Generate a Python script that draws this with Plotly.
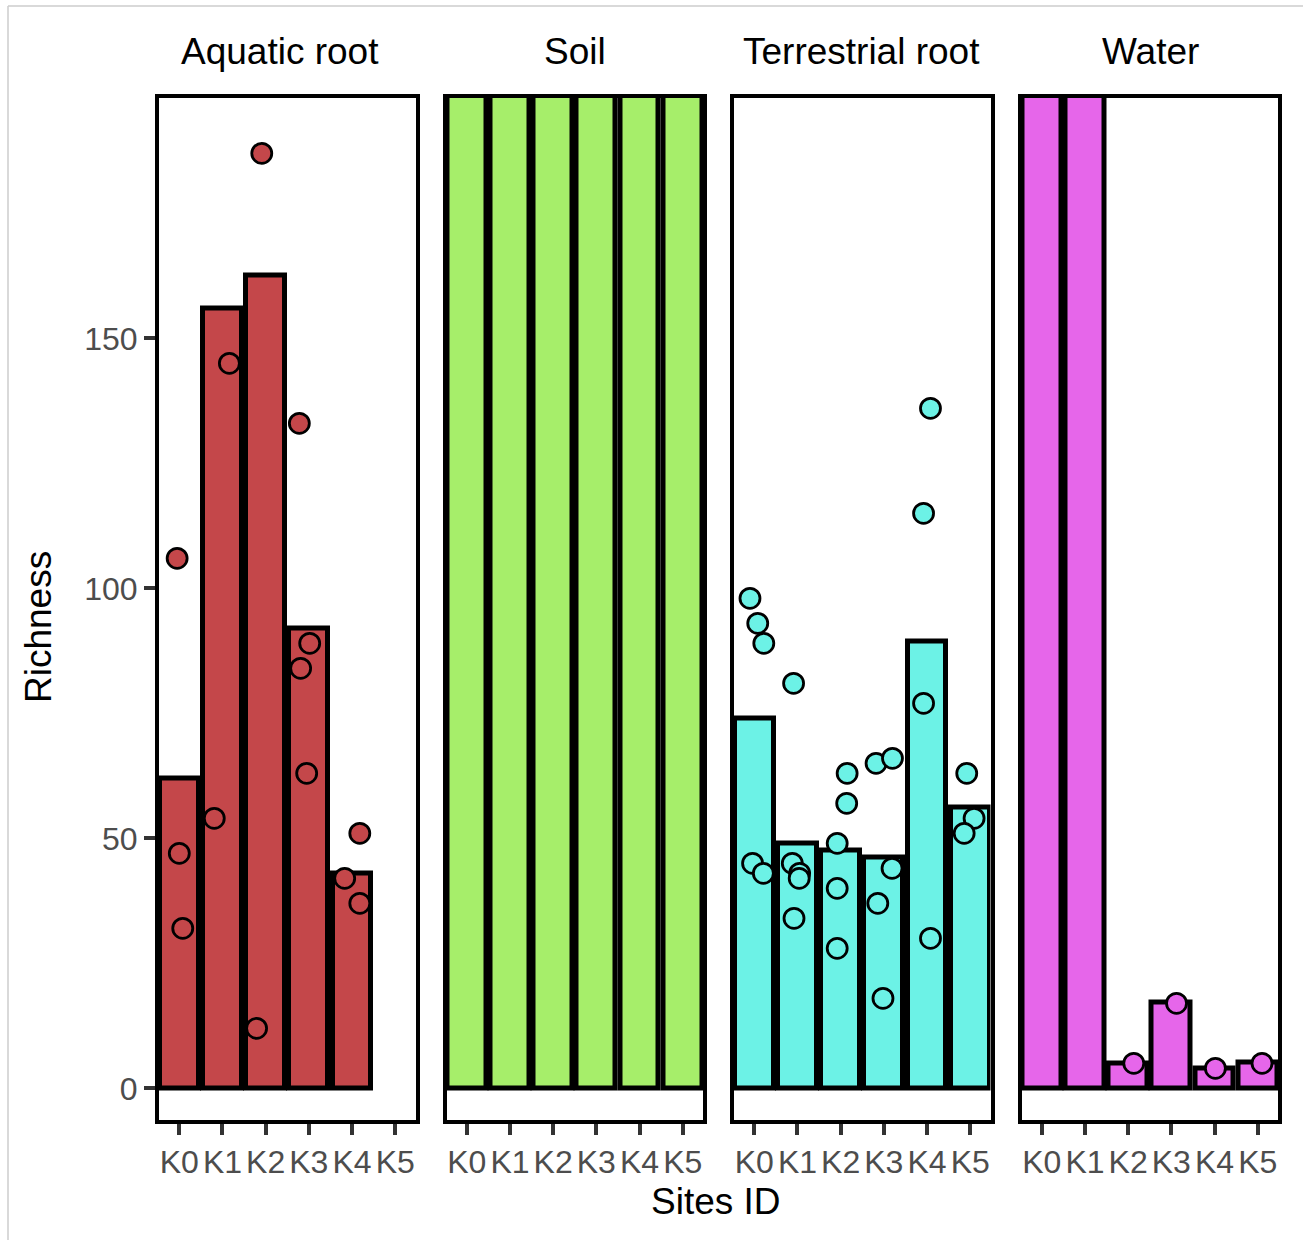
import plotly.graph_objects as go

# ---------------- data ----------------
sites = ["K0", "K1", "K2", "K3", "K4", "K5"]
panels = ["Aquatic root", "Soil", "Terrestrial root", "Water"]

# mean richness bars (values above the visible range are clipped, as in the original)
bar_aquatic = [62, 156, 162.5, 92, 43, None]
bar_soil = [420, 385, 450, 400, 430, 395]
bar_terrestrial = [74, 49, 47.6, 46.2, 89.4, 56.2]
bar_water = [260, 240, 5, 17.2, 4, 5.2]

# individual samples: site, richness, horizontal jitter (in site units)
pts_aquatic_site = ["K0", "K0", "K0", "K1", "K1", "K2", "K2", "K3", "K3", "K3", "K3", "K4", "K4", "K4"]
pts_aquatic_val = [106, 47, 32, 145, 54, 187, 12, 133, 89, 84, 63, 51, 42, 37]
pts_aquatic_jit = [-0.05, 0.0, 0.08, 0.16, -0.19, -0.09, -0.21, -0.22, 0.02, -0.19, -0.05, 0.18, -0.17, 0.18]

pts_soil_site = []
pts_soil_val = []
pts_soil_jit = []

pts_terr_site = ["K0", "K0", "K0", "K0", "K0",
                 "K1", "K1", "K1", "K1", "K1",
                 "K2", "K2", "K2", "K2", "K2",
                 "K3", "K3", "K3", "K3", "K3",
                 "K4", "K4", "K4", "K4",
                 "K5", "K5", "K5"]
pts_terr_val = [98, 93, 89, 45, 43,
                81, 45, 43, 42, 34,
                63, 57, 49, 40, 28,
                65, 66, 44, 37, 18,
                136, 115, 77, 30,
                63, 54, 51]
pts_terr_jit = [-0.10, 0.08, 0.22, -0.04, 0.21,
                -0.09, -0.12, 0.05, 0.04, -0.08,
                0.15, 0.14, -0.08, -0.08, -0.08,
                -0.18, 0.20, 0.19, -0.14, -0.02,
                0.08, -0.08, -0.08, 0.08,
                -0.08, 0.09, -0.14]

pts_water_site = ["K2", "K3", "K4", "K5"]
pts_water_val = [5, 17, 4, 5]
pts_water_jit = [0.13, 0.12, 0.02, 0.10]

colors = ["#C4474A", "#A6EE6A", "#6CF2E6", "#E666EA"]

y_ticks = [0, 50, 100, 150]

# ---------------- layout geometry ----------------
W, H = 1303, 1240
panel_left_px = [159, 446.5, 734, 1021.5]
panel_w_px = 256.5
plot_top_px, plot_bot_px = 97.5, 1119.5

def px(x):
    return x / W

def py(y):
    return 1 - y / H

bars = [bar_aquatic, bar_soil, bar_terrestrial, bar_water]
pts = [
    (pts_aquatic_site, pts_aquatic_val, pts_aquatic_jit),
    (pts_soil_site, pts_soil_val, pts_soil_jit),
    (pts_terr_site, pts_terr_val, pts_terr_jit),
    (pts_water_site, pts_water_val, pts_water_jit),
]

fig = go.Figure()
idx = list(range(len(sites)))
for i, (name, col) in enumerate(zip(panels, colors)):
    xa = "x" if i == 0 else f"x{i+1}"
    ya = "y" if i == 0 else f"y{i+1}"
    fig.add_trace(go.Bar(
        x=idx, y=bars[i], width=0.9, xaxis=xa, yaxis=ya,
        marker=dict(color=col, line=dict(color="black", width=5)),
        showlegend=False, name=name,
    ))
    s, v, j = pts[i]
    if s:
        fig.add_trace(go.Scatter(
            x=[sites.index(a) + b for a, b in zip(s, j)], y=v,
            mode="markers", xaxis=xa, yaxis=ya, showlegend=False, name=name,
            marker=dict(color=col, size=20, line=dict(color="black", width=2.8)),
        ))

axis_common = dict(showline=True, mirror=True, linecolor="black", linewidth=4,
                   showgrid=False, zeroline=False, ticks="outside",
                   tickcolor="#333333", tickwidth=3.5, ticklen=11)

layout = dict(
    width=W, height=H, margin=dict(l=0, r=0, t=0, b=0),
    paper_bgcolor="white", plot_bgcolor="white",
    bargap=0, barmode="overlay",
    font=dict(family="Liberation Sans, Arial, sans-serif", color="black"),
)
for i in range(4):
    xk = "xaxis" if i == 0 else f"xaxis{i+1}"
    yk = "yaxis" if i == 0 else f"yaxis{i+1}"
    ya = "y" if i == 0 else f"y{i+1}"
    xa = "x" if i == 0 else f"x{i+1}"
    layout[xk] = dict(axis_common, domain=[px(panel_left_px[i]), px(panel_left_px[i] + panel_w_px)],
                      anchor=ya, range=[-0.47, 5.47], tickmode="array", tickvals=idx, ticktext=sites,
                      tickfont=dict(size=32, color="#4D4D4D"), fixedrange=True)
    ydict = dict(axis_common, domain=[py(plot_bot_px), py(plot_top_px)], anchor=xa,
                 range=[-6.24, 198.16], tickmode="array", tickvals=y_ticks,
                 tickfont=dict(size=32, color="#4D4D4D"))
    if i > 0:
        ydict.update(showticklabels=False, ticks="")
    layout[yk] = ydict

fig.update_layout(**layout)

# facet strip titles
title_x = [280, 575, 861, 1150]
for i, t in enumerate(panels):
    fig.add_annotation(text=t, x=px(title_x[i]), y=py(51.5), xref="paper", yref="paper",
                       xanchor="center", yanchor="middle", showarrow=False,
                       font=dict(size=37, color="black"))

# axis titles
fig.add_annotation(text="Sites ID", x=px(716), y=py(1201), xref="paper", yref="paper",
                   xanchor="center", yanchor="middle", showarrow=False, font=dict(size=37))
fig.add_annotation(text="Richness", x=px(38), y=py(627), xref="paper", yref="paper",
                   xanchor="center", yanchor="middle", textangle=-90, showarrow=False,
                   font=dict(size=37))

# light page frame (top and left edges)
fig.add_shape(type="line", xref="paper", yref="paper", x0=px(8), x1=1, y0=py(6), y1=py(6),
              line=dict(color="#CCCCCC", width=1.5))
fig.add_shape(type="line", xref="paper", yref="paper", x0=px(8), x1=px(8), y0=py(6), y1=0,
              line=dict(color="#CCCCCC", width=1.5))

fig.write_html("out.html")
